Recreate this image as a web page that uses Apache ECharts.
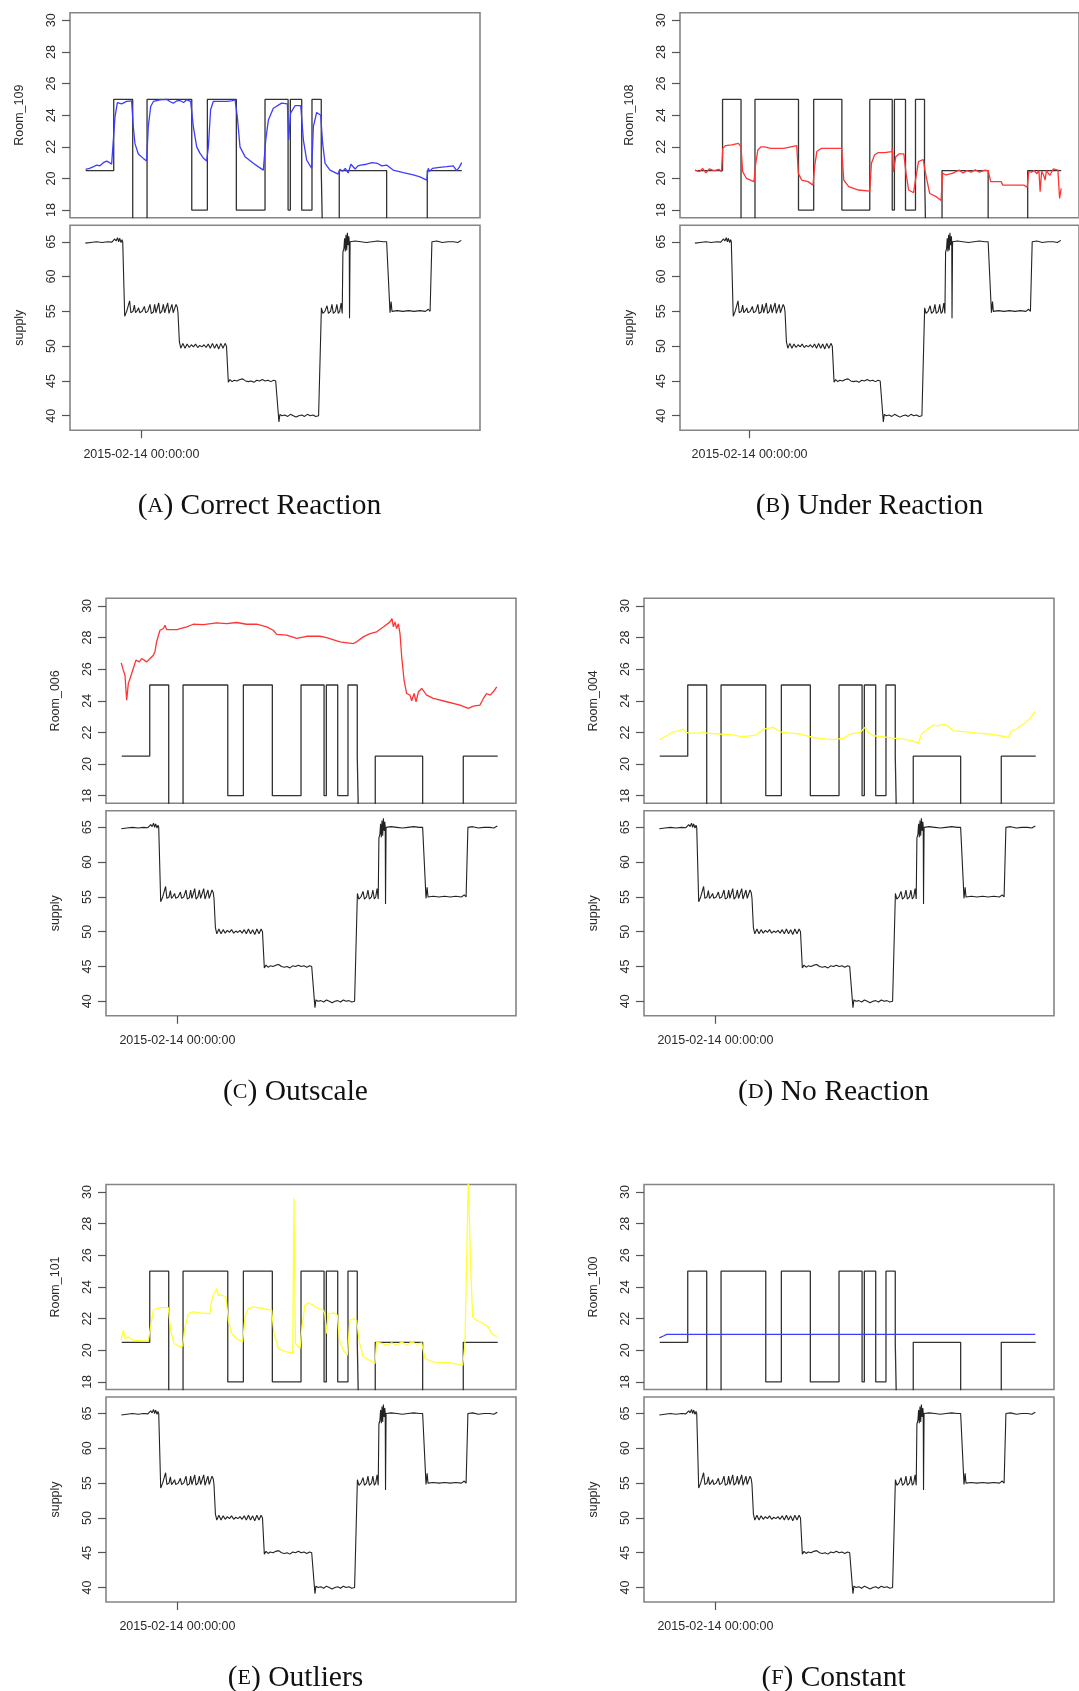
<!DOCTYPE html>
<html>
<head>
<meta charset="utf-8">
<script src="https://cdn.jsdelivr.net/npm/echarts@6/dist/echarts.min.js"></script>
<style>
  html, body { margin: 0; padding: 0; background: #ffffff; }
  #chart { width: 1079px; height: 1691px; }
</style>
</head>
<body>
<div id="chart"></div>
<script>
// Time is in hours relative to 2015-02-14 00:00:00.
const timeTickHours = [0];
const timeTickLabels = ['2015-02-14 00:00:00'];
const roomTicks = [18, 20, 22, 24, 26, 28, 30];
const supplyTicks = [40, 45, 50, 55, 60, 65];

// Panel captions and room names
const panelLetters = ['A', 'B', 'C', 'D', 'E', 'F'];
const panelCaptions = ['Correct Reaction', 'Under Reaction', 'Outscale', 'No Reaction', 'Outliers', 'Constant'];
const roomNames = ['Room_109', 'Room_108', 'Room_006', 'Room_004', 'Room_101', 'Room_100'];

// Set-point schedule (change points; 15 = heating off, below the plotted range)
const setpoint = [
  [-3.96, 20.5], [-1.97, 25], [-0.62, 15], [0.40, 25], [3.58, 18], [4.69, 25], [6.75, 18],
  [8.79, 25], [10.43, 18], [10.59, 25], [11.40, 18], [12.13, 25], [12.79, 20.5], [12.91, 15],
  [14.07, 20.5], [17.44, 15], [20.33, 20.5], [22.78, 20.5]
];

// Supply water temperature
const supply = [
  [-3.99, 64.8], [-3.6, 64.9], [-3.2, 65.0], [-2.8, 64.9], [-2.4, 65.0], [-2.1, 64.95], [-1.9, 65.4],
  [-1.8, 65.1], [-1.7, 65.6], [-1.62, 65.0], [-1.55, 65.5], [-1.45, 64.9], [-1.38, 65.3], [-1.33, 65.0],
  [-1.19, 54.3], [-1.05, 55.0], [-0.95, 54.8], [-0.84, 56.5], [-0.75, 54.8], [-0.6, 55.0], [-0.5, 55.9],
  [-0.42, 54.8], [-0.3, 55.1], [-0.2, 55.5], [-0.12, 54.8], [0.05, 55.0], [0.21, 55.7], [0.3, 54.8],
  [0.45, 55.0], [0.61, 56.0], [0.7, 54.7], [0.85, 54.9], [0.94, 56.0], [1.03, 54.8], [1.15, 54.9],
  [1.23, 56.2], [1.32, 54.7], [1.45, 55.0], [1.56, 56.0], [1.65, 54.8], [1.78, 55.0], [1.87, 56.2],
  [1.96, 54.7], [2.08, 54.9], [2.17, 56.0], [2.26, 54.8], [2.38, 55.0], [2.46, 56.0], [2.55, 55.6],
  [2.6, 54.8], [2.7, 50.6], [2.8, 49.7], [2.95, 50.4], [3.1, 49.7], [3.25, 50.3], [3.4, 49.8],
  [3.55, 50.2], [3.7, 49.9], [3.85, 50.3], [4.0, 49.8], [4.15, 50.1], [4.3, 49.9], [4.45, 50.2],
  [4.6, 49.8], [4.75, 50.3], [4.9, 49.7], [5.05, 50.4], [5.2, 49.7], [5.35, 50.3], [5.5, 49.6],
  [5.65, 50.4], [5.8, 49.7], [5.95, 50.4], [6.05, 50.0], [6.18, 44.8], [6.3, 45.2], [6.45, 44.9],
  [6.6, 45.1], [6.8, 45.0], [7.0, 45.2], [7.2, 45.3], [7.4, 45.0], [7.6, 44.9], [7.8, 45.0],
  [8.0, 44.8], [8.2, 45.1], [8.4, 45.0], [8.6, 45.2], [8.8, 45.0], [9.0, 45.1], [9.2, 44.9],
  [9.4, 45.1], [9.55, 45.0], [9.78, 39.1], [9.85, 40.2], [10.0, 40.0], [10.2, 40.1], [10.4, 39.9],
  [10.6, 40.2], [10.8, 40.0], [11.0, 39.8], [11.2, 40.0], [11.4, 40.1], [11.6, 39.9], [11.8, 40.2],
  [12.0, 40.0], [12.2, 40.1], [12.4, 39.9], [12.6, 40.0], [12.72, 39.9], [12.8, 55.5], [12.9, 54.7],
  [13.05, 55.0], [13.2, 55.8], [13.3, 54.7], [13.45, 55.0], [13.55, 56.0], [13.65, 54.7], [13.8, 55.0],
  [13.9, 56.0], [14.0, 54.7], [14.1, 55.0], [14.2, 56.2], [14.28, 54.7], [14.33, 63.5], [14.4, 64.0],
  [14.45, 65.5], [14.5, 63.6], [14.55, 66.0], [14.6, 63.8], [14.65, 66.3], [14.7, 64.5], [14.75, 65.8],
  [14.78, 65.0], [14.8, 54.0], [14.84, 65.0], [15.2, 65.1], [15.6, 65.0], [16.0, 64.9], [16.4, 65.0],
  [16.8, 65.1], [17.2, 65.0], [17.44, 65.0], [17.68, 54.8], [17.76, 56.4], [17.82, 55.0], [18.2, 55.1],
  [18.6, 55.0], [19.0, 55.1], [19.4, 55.0], [19.8, 55.1], [20.2, 55.0], [20.4, 55.3], [20.53, 55.0],
  [20.66, 65.0], [21.0, 65.1], [21.4, 64.9], [21.8, 65.0], [22.2, 65.0], [22.5, 64.9], [22.75, 65.2]
];

// Room temperatures
const room109 = [
  [-3.97, 20.58], [-3.7, 20.64], [-3.4, 20.75], [-3.18, 20.85], [-2.95, 20.8], [-2.71, 21.0],
  [-2.47, 21.1], [-2.3, 21.02], [-2.12, 20.9], [-2.0, 20.8], [-1.88, 23.9], [-1.71, 24.8],
  [-1.41, 24.72], [-1.05, 24.87], [-0.7, 24.9], [-0.58, 23.3], [-0.46, 22.2], [-0.22, 21.55],
  [0.135, 21.27], [0.37, 21.1], [0.49, 23.3], [0.66, 24.55], [0.85, 24.87], [1.32, 24.97],
  [1.8, 25.0], [2.05, 24.85], [2.27, 24.76], [2.5, 24.9], [2.74, 24.93], [3.0, 24.8], [3.22, 24.97],
  [3.5, 24.87], [3.69, 23.3], [3.93, 22.0], [4.16, 21.6], [4.4, 21.3], [4.64, 21.1], [4.76, 22.0],
  [4.92, 24.34], [5.11, 24.87], [5.59, 24.87], [6.06, 24.87], [6.4, 24.9], [6.66, 24.97], [6.82, 23.9],
  [7.01, 22.0], [7.37, 21.38], [7.96, 20.96], [8.3, 20.75], [8.67, 20.53], [8.84, 22.43], [9.03, 23.7],
  [9.38, 24.44], [9.97, 24.76], [10.38, 24.72], [10.47, 22.43], [10.61, 24.13], [10.92, 24.6],
  [11.33, 24.6], [11.52, 22.43], [11.75, 21.17], [12.11, 20.64], [12.23, 23.28], [12.46, 24.17],
  [12.75, 24.0], [12.89, 22.2], [13.06, 20.96], [13.41, 20.53], [14.0, 20.28], [14.12, 20.58],
  [14.3, 20.45], [14.5, 20.64], [14.7, 20.35], [14.9, 20.9], [15.0, 21.0], [15.2, 20.6], [15.4, 20.8],
  [15.6, 20.85], [16.0, 20.9], [16.4, 21.0], [16.8, 20.95], [17.1, 20.8], [17.44, 20.85], [17.9, 20.53],
  [18.63, 20.37], [19.34, 20.22], [19.81, 20.1], [20.29, 19.9], [20.4, 20.64], [20.5, 20.45],
  [20.7, 20.64], [21.2, 20.7], [21.71, 20.75], [22.18, 20.8], [22.42, 20.5], [22.6, 20.7], [22.78, 21.0]
];
const room108 = [
  [-3.99, 20.53], [-3.66, 20.43], [-3.43, 20.64], [-3.19, 20.35], [-2.95, 20.6], [-2.59, 20.5],
  [-2.24, 20.58], [-2.05, 20.43], [-1.95, 21.9], [-1.76, 22.08], [-1.29, 22.12], [-0.81, 22.22],
  [-0.62, 22.0], [-0.5, 20.43], [-0.22, 20.0], [0.33, 19.8], [0.42, 20.75], [0.61, 21.8], [0.85, 22.0],
  [1.08, 22.0], [1.56, 21.9], [2.51, 21.9], [3.45, 22.08], [3.57, 20.32], [3.81, 19.9], [4.28, 19.8],
  [4.64, 19.58], [4.76, 20.75], [4.92, 21.7], [5.23, 21.9], [5.83, 21.9], [6.73, 21.9], [6.89, 19.9],
  [7.25, 19.48], [7.96, 19.27], [8.79, 19.2], [8.91, 20.96], [9.14, 21.48], [9.38, 21.63], [9.86, 21.63],
  [10.4, 21.7], [10.45, 21.9], [10.52, 20.43], [10.69, 21.38], [10.92, 21.55], [11.28, 21.55],
  [11.44, 20.32], [11.63, 19.27], [11.99, 19.1], [12.13, 19.9], [12.35, 21.06], [12.7, 21.2],
  [12.82, 20.53], [12.94, 20.0], [13.17, 19.05], [13.65, 18.85], [14.0, 18.6], [14.12, 20.32],
  [14.36, 20.22], [14.83, 20.32], [15.31, 20.53], [15.6, 20.35], [15.9, 20.5], [16.2, 20.4],
  [16.5, 20.55], [16.8, 20.4], [17.2, 20.53], [17.44, 20.5], [17.63, 19.8], [18.39, 19.8],
  [18.51, 19.58], [20.05, 19.58], [20.29, 19.44], [20.41, 20.43], [20.6, 20.4], [20.8, 20.5],
  [21.0, 20.3], [21.15, 20.5], [21.24, 19.16], [21.35, 20.45], [21.5, 20.2], [21.6, 19.9], [21.7, 20.5],
  [21.95, 20.2], [22.2, 20.6], [22.54, 20.53], [22.66, 18.74], [22.78, 19.37]
];
const room006 = [
  [-4.0, 26.4], [-3.85, 25.94], [-3.73, 25.62], [-3.61, 24.04], [-3.49, 25.1], [-3.33, 25.52],
  [-3.14, 26.04], [-2.95, 26.57], [-2.85, 26.67], [-2.71, 26.46], [-2.54, 26.67], [-2.19, 26.46],
  [-1.95, 26.67], [-1.71, 26.88], [-1.6, 27.1], [-1.48, 27.73], [-1.24, 28.46], [-1.0, 28.57],
  [-0.88, 28.78], [-0.77, 28.5], [-0.05, 28.5], [0.66, 28.67], [1.13, 28.84], [1.84, 28.82],
  [2.79, 28.93], [3.5, 28.88], [4.21, 28.95], [4.92, 28.84], [5.64, 28.84], [6.35, 28.67],
  [6.82, 28.46], [7.06, 28.2], [7.77, 28.15], [8.48, 27.94], [9.19, 28.08], [10.14, 28.08],
  [10.61, 28.0], [11.56, 27.73], [12.51, 27.62], [12.75, 27.73], [13.22, 28.04], [13.7, 28.25],
  [14.17, 28.36], [14.64, 28.67], [15.12, 28.99], [15.26, 29.2], [15.36, 28.67], [15.47, 28.99],
  [15.59, 28.57], [15.71, 28.88], [15.83, 28.25], [15.95, 26.78], [16.12, 25.3], [16.3, 24.46],
  [16.54, 24.36], [16.66, 24.0], [16.83, 24.46], [16.97, 23.94], [17.14, 24.57], [17.37, 24.78],
  [17.73, 24.36], [18.2, 24.15], [19.15, 23.94], [20.1, 23.73], [20.69, 23.52], [21.05, 23.66],
  [21.52, 23.73], [21.76, 24.15], [21.99, 24.46], [22.23, 24.36], [22.47, 24.57], [22.71, 24.88]
];
const room004 = [
  [-3.99, 21.52], [-3.71, 21.68], [-3.47, 21.79], [-3.11, 22.0], [-2.64, 22.1], [-2.28, 22.21],
  [-2.09, 22.0], [-1.81, 21.96], [-1.10, 21.96], [-0.86, 22.04], [-0.62, 21.96], [0.33, 21.9],
  [1.27, 21.85], [1.75, 21.75], [2.22, 21.75], [2.93, 21.85], [3.41, 22.21], [4.12, 22.32],
  [4.59, 22.04], [5.3, 21.96], [6.02, 21.9], [6.96, 21.68], [7.91, 21.58], [8.39, 21.54], [9.1, 21.62],
  [9.57, 21.9], [10.28, 22.0], [10.64, 22.32], [10.88, 22.0], [11.23, 21.79], [11.71, 21.75],
  [12.65, 21.64], [13.6, 21.54], [14.08, 21.45], [14.43, 21.33], [14.67, 21.9], [15.14, 22.25],
  [15.5, 22.46], [15.85, 22.42], [16.21, 22.53], [16.57, 22.38], [16.92, 22.1], [17.87, 22.04],
  [18.58, 21.96], [19.53, 21.9], [20.24, 21.79], [20.83, 21.68], [21.07, 22.1], [21.43, 22.21],
  [21.71, 22.42], [22.02, 22.59], [22.37, 22.88], [22.73, 23.33]
];
const room101 = [
  [-4.01, 20.64], [-3.85, 21.27], [-3.73, 20.74], [-3.49, 20.85], [-3.33, 20.74], [-3.14, 20.64],
  [-2.42, 20.6], [-2.07, 20.6], [-1.95, 21.27], [-1.71, 22.53], [-1.48, 22.64], [-1.12, 22.7],
  [-0.65, 22.7], [-0.48, 21.27], [-0.24, 20.43], [0.18, 20.22], [0.37, 20.26], [0.54, 21.48],
  [0.78, 22.32], [1.13, 22.43], [1.6, 22.37], [2.32, 22.32], [2.39, 22.96], [2.55, 23.48], [2.79, 23.9],
  [2.91, 23.48], [3.15, 23.48], [3.45, 23.38], [3.62, 21.9], [3.86, 21.06], [4.21, 20.74], [4.64, 20.53],
  [4.81, 22.11], [5.04, 22.64], [5.4, 22.75], [6.11, 22.64], [6.7, 22.53], [6.87, 21.06], [7.18, 20.11],
  [7.77, 19.9], [8.2, 19.84], [8.29, 29.6], [8.39, 20.43], [8.72, 20.11], [8.86, 21.48], [9.07, 22.85],
  [9.31, 23.0], [9.67, 22.85], [9.9, 22.7], [10.38, 22.53], [10.5, 22.22], [10.61, 21.06], [10.73, 22.28],
  [11.09, 22.37], [11.37, 22.22], [11.52, 20.64], [11.8, 20.0], [12.08, 19.69], [12.27, 21.9],
  [12.51, 22.0], [12.75, 21.9], [12.94, 20.53], [13.22, 19.58], [13.58, 19.41], [14.05, 19.16],
  [14.17, 20.53], [14.53, 20.43], [14.88, 20.32], [15.24, 20.47], [15.59, 20.32], [15.95, 20.53],
  [16.31, 20.32], [16.66, 20.53], [17.02, 20.38], [17.37, 20.47], [17.61, 19.48], [17.96, 19.33],
  [18.44, 19.22], [19.39, 19.22], [20.29, 19.05], [20.45, 20.32], [20.57, 20.22], [20.69, 31.0],
  [20.76, 31.0], [20.86, 25.07], [21.0, 22.11], [21.28, 21.9], [21.76, 21.69], [22.11, 21.48],
  [22.35, 21.06], [22.71, 20.85]
];
const room100 = [
  [-3.99, 20.78], [-3.7, 20.9], [-3.47, 21.0], [22.75, 21.0]
];

const roomSeries = [room109, room108, room006, room004, room101, room100];
const roomColors = ['#3d3dff', '#ff3535', '#ff3535', '#ffff38', '#ffff38', '#3d3dff'];

// Pick a narrow sans face when present (the axis text is tall and narrow)
function fontAvailable(name) {
  const ctx = document.createElement('canvas').getContext('2d');
  ctx.font = '40px monospace';
  const a = ctx.measureText('Room_109 2015-02-14').width;
  ctx.font = '40px "' + name + '", monospace';
  const b = ctx.measureText('Room_109 2015-02-14').width;
  return Math.abs(a - b) > 0.5;
}
const hasNarrow = fontAvailable('Liberation Sans Narrow');
const AX_FONT = hasNarrow ? 'Liberation Sans Narrow' : 'Liberation Sans';
const AX_SIZE = hasNarrow ? 14 : 12.5;
const AX_COLOR = '#2a2a2a';
const BOX = '#858585';
const SERIF = 'Liberation Serif';

// Layout of the six panels: left edge of the plot box and top of the upper box
const panelLeft = [70, 680, 106, 644, 106, 644];
const panelTop = [12.7, 12.7, 598.3, 598.3, 1184.5, 1184.5];
const BOX_W = 410, BOX_H = 205, LOWER_OFFSET = 212.5;
const X_MIN = -5.08, X_MAX = 24.08;

const grids = [], xAxes = [], yAxes = [], series = [], graphics = [];
const axText = { fontFamily: AX_FONT, fontSize: AX_SIZE, color: AX_COLOR };
const tickLine = { color: '#555', width: 1.2 };

panelLetters.forEach((letter, i) => {
  const L = panelLeft[i], T = panelTop[i];
  const gTop = 2 * i, gBot = 2 * i + 1;
  const gridStyle = { show: true, borderColor: BOX, borderWidth: 1.6, backgroundColor: 'transparent' };
  grids.push(Object.assign({ left: L, top: T, width: BOX_W, height: BOX_H }, gridStyle));
  grids.push(Object.assign({ left: L, top: T + LOWER_OFFSET, width: BOX_W, height: BOX_H }, gridStyle));

  xAxes.push({
    type: 'value', gridIndex: gTop, min: X_MIN, max: X_MAX, position: 'bottom',
    axisLine: { show: false, onZero: false }, axisTick: { show: false }, axisLabel: { show: false },
    splitLine: { show: false }
  });
  xAxes.push({
    type: 'value', gridIndex: gBot, min: X_MIN, max: X_MAX, position: 'bottom',
    axisLine: { show: false, onZero: false },
    axisTick: { show: true, inside: false, length: 8, customValues: timeTickHours, lineStyle: tickLine },
    axisLabel: Object.assign({
      customValues: timeTickHours, margin: 18,
      formatter: v => { const k = timeTickHours.indexOf(v); return k >= 0 ? timeTickLabels[k] : ''; }
    }, axText),
    splitLine: { show: false }
  });

  yAxes.push({
    type: 'value', gridIndex: gTop, min: 17.52, max: 30.48, position: 'left',
    name: roomNames[i], nameLocation: 'middle', nameRotate: 90, nameGap: 44, nameTextStyle: axText,
    axisLine: { show: false, onZero: false },
    axisTick: { show: true, inside: false, length: 8, customValues: roomTicks, lineStyle: tickLine },
    axisLabel: Object.assign({ customValues: roomTicks, rotate: 90, margin: 12 }, axText),
    splitLine: { show: false }
  });
  yAxes.push({
    type: 'value', gridIndex: gBot, min: 37.92, max: 67.38, position: 'left',
    name: 'supply', nameLocation: 'middle', nameRotate: 90, nameGap: 44, nameTextStyle: axText,
    axisLine: { show: false, onZero: false },
    axisTick: { show: true, inside: false, length: 8, customValues: supplyTicks, lineStyle: tickLine },
    axisLabel: Object.assign({ customValues: supplyTicks, rotate: 90, margin: 12 }, axText),
    splitLine: { show: false }
  });

  const lineBase = { type: 'line', symbol: 'none', showSymbol: false, silent: true, animation: false, clip: true };
  series.push(Object.assign({}, lineBase, {
    xAxisIndex: gTop, yAxisIndex: gTop, data: setpoint, step: 'end', z: 2,
    lineStyle: { color: '#333333', width: 1.3 }
  }));
  series.push(Object.assign({}, lineBase, {
    xAxisIndex: gTop, yAxisIndex: gTop, data: roomSeries[i], z: 3,
    lineStyle: { color: roomColors[i], width: 1.3 }
  }));
  series.push(Object.assign({}, lineBase, {
    xAxisIndex: gBot, yAxisIndex: gBot, data: supply, z: 2,
    lineStyle: { color: '#222222', width: 1.1 }
  }));

  graphics.push({
    type: 'text', x: L + 189.5, y: T + 508.5, silent: true,
    style: {
      text: '{p|(}{s|' + letter + '}{p|) ' + panelCaptions[i] + '}',
      align: 'center', verticalAlign: 'bottom',
      rich: {
        p: { fontFamily: SERIF, fontSize: 29.5, fill: '#111111' },
        s: { fontFamily: SERIF, fontSize: 22, fill: '#111111' }
      }
    }
  });
});

const chart = echarts.init(document.getElementById('chart'), null, { renderer: 'canvas' });
chart.setOption({
  backgroundColor: '#ffffff',
  animation: false,
  grid: grids,
  xAxis: xAxes,
  yAxis: yAxes,
  series: series,
  graphic: graphics
});
</script>
</body>
</html>
